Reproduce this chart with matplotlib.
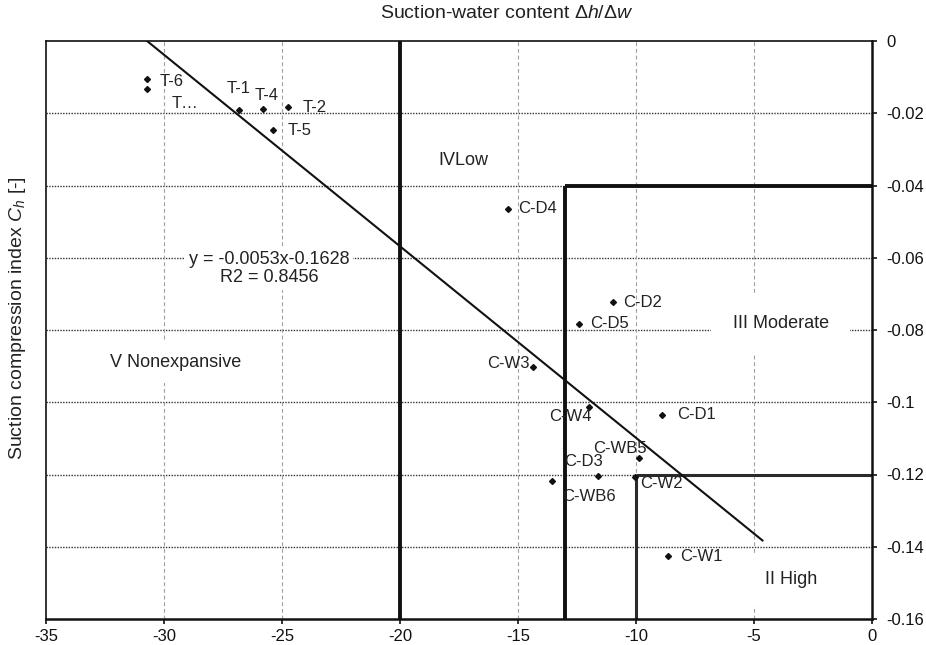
import matplotlib
matplotlib.use("Agg")
import matplotlib.pyplot as plt

plt.rcParams['font.family'] = ['Liberation Sans', 'DejaVu Sans']
plt.rcParams['axes.unicode_minus'] = False
plt.rcParams['mathtext.fontset'] = 'custom'
plt.rcParams['mathtext.rm'] = 'Liberation Sans'
plt.rcParams['mathtext.it'] = 'Liberation Sans:italic'

# sample points
labels = ["T-6", "T…", "T-1", "T-4", "T-2", "T-5",
          "C-D4", "C-D2", "C-D5", "C-W3", "C-W4", "C-D1",
          "C-WB5", "C-D3", "C-WB6", "C-W2", "C-W1"]
dh_dw = [-30.72, -30.72, -26.82, -25.80, -24.74, -25.38,
         -15.42, -10.96, -12.41, -14.36, -11.98, -8.89,
         -9.86, -11.60, -13.55, -10.03, -8.63]
ch = [-0.0105, -0.0133, -0.0191, -0.0188, -0.0183, -0.0246,
      -0.0465, -0.0723, -0.0783, -0.0903, -0.1013, -0.1035,
      -0.1154, -0.1204, -0.1218, -0.1207, -0.1426]

# linear trend as printed on the chart (forecast 4 units forward)
slope = -0.0053
intercept = -0.1628
forecast = 4

# class boundaries: (x0, x1, y0, y1)
boundaries = [(-20, -20, 0, -0.16),
              (-13, -13, -0.04, -0.16),
              (-13, 0, -0.04, -0.04),
              (-10, -10, -0.12, -0.16),
              (-10, 0, -0.12, -0.12)]

regions = ["IVLow", "III Moderate", "V Nonexpansive", "II High"]
region_xy = [(-17.3, -0.033), (-3.86, -0.0782), (-29.5, -0.0889), (-3.4, -0.149)]

xticks = [-35, -30, -25, -20, -15, -10, -5, 0]
yticks = [0, -0.02, -0.04, -0.06, -0.08, -0.1, -0.12, -0.14, -0.16]
ytick_labels = ["0", "-0.02", "-0.04", "-0.06", "-0.08", "-0.1", "-0.12", "-0.14", "-0.16"]

# label offsets in pixels (dx, dy, ha)
offsets = [(13, -3, 'left'), (25, -14.5, 'left'), (0, 21, 'center'), (4, 13.5, 'center'),
           (15, 0, 'left'), (15, -1, 'left'), (10, 0, 'left'), (10, 0, 'left'),
           (11, 0, 'left'), (-3, 3.5, 'right'), (3, -9.5, 'right'), (15, 0, 'left'),
           (8, 9.5, 'right'), (-15, 14.5, 'center'), (10, -15, 'left'), (5, -6.5, 'left'),
           (12, 0, 'left')]

fig = plt.figure(figsize=(9.26, 6.45), dpi=100)
ax = fig.add_axes([46 / 926, 1 - 619 / 645, (871.7 - 46) / 926, (619 - 41) / 645])

ax.set_xlim(-35, 0)
ax.set_ylim(-0.16, 0)

# grid
for yv in yticks[1:-1]:
    ax.axhline(yv, color='#333333', lw=1.0, ls=(0, (1, 1)), zorder=1)
for xv in xticks[1:-1]:
    ax.axvline(xv, color='#a0a0a0', lw=0.8, ls=(0, (3.5, 2.5)), zorder=1)

# class boundaries
for i, (x0, x1, y0, y1) in enumerate(boundaries):
    lw = 2.2 if i >= 3 else 2.8
    col = '#2a2a2a' if i >= 3 else '#111111'
    ax.plot([x0, x1], [y0, y1], color=col, lw=lw, solid_capstyle='butt', zorder=2)

# trendline
x_tr = [min(dh_dw), max(dh_dw) + forecast]
y_tr = [slope * v + intercept for v in x_tr]
ax.plot(x_tr, y_tr, color='#111111', lw=1.5, zorder=4)

ax.plot(dh_dw, ch, ls='none', marker='D', ms=3.0, color='#111111', zorder=5)

for lab, x, y, (dx, dy, ha) in zip(labels, dh_dw, ch, offsets):
    ax.annotate(lab, (x, y), xytext=(dx, dy), textcoords='offset pixels',
                ha=ha, va='center', fontsize=12, color='#222222', zorder=6)

ax.text(-25.55, -0.063, "y = -0.0053x-0.1628\nR2 = 0.8456", ha='center', va='center',
        fontsize=13, color='#222222', linespacing=1.05, zorder=3,
        bbox=dict(boxstyle='square,pad=0.2', fc='white', ec='none'))

pads = [0.7, 1.2, 0.7, 1.0]
for txt, (x, y), p in zip(regions, region_xy, pads):
    ax.text(x, y, txt, ha='center', va='center', fontsize=13, color='#222222', zorder=3,
            bbox=dict(boxstyle='square,pad=%s' % p, fc='white', ec='none'))

# axes styling
ax.yaxis.tick_right()
ax.set_yticks(yticks)
ax.set_yticklabels(ytick_labels)
ax.set_xticks(xticks)
ax.set_xticklabels([str(v) for v in xticks])
ax.tick_params(axis='both', labelsize=12, direction='out', length=3.5, width=1.2,
               colors='#111111')
ax.tick_params(axis='y', pad=7)
ax.tick_params(axis='x', pad=4)
for side in ['left', 'top']:
    ax.spines[side].set_linewidth(1.2)
    ax.spines[side].set_color('#111111')
for side in ['right', 'bottom']:
    ax.spines[side].set_linewidth(1.8)
    ax.spines[side].set_color('#111111')

fig.text(507 / 926, 1 - 14 / 645, r'Suction-water content $\Delta h/\Delta w$',
         ha='center', va='center', fontsize=14, color='#222222')
fig.text(18 / 926, 1 - 318 / 645, r'Suction compression index $C_h$ [-]',
         ha='center', va='center', rotation=90, fontsize=14, color='#222222')

fig.savefig("out.png", dpi=100)
